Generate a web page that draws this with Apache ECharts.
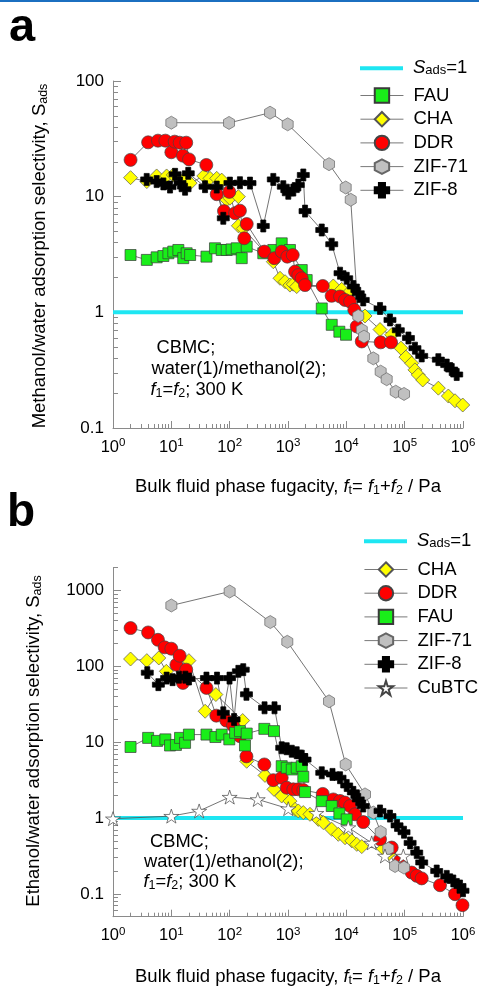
<!DOCTYPE html>
<html><head><meta charset="utf-8">
<script src="https://cdn.jsdelivr.net/npm/echarts@6/dist/echarts.min.js"></script>
<style>html,body{margin:0;padding:0;background:#fff}#c{width:479px;height:986px}</style>
</head><body><div id="c"></div>
<script>
// ---------- DATA: panel a (methanol/water) ----------
const xTicks = [1, 10, 100, 1000, 1e4, 1e5, 1e6];
const yTicksA = [0.1, 1, 10, 100];
const yTicksB = [0.1, 1, 10, 100, 1000];
const legendA = ['Sads=1', 'FAU', 'CHA', 'DDR', 'ZIF-71', 'ZIF-8'];
const legendB = ['Sads=1', 'CHA', 'DDR', 'FAU', 'ZIF-71', 'ZIF-8', 'CuBTC'];
const unity = [[1, 1], [1e6, 1]];

const FAU_a = [[2,3.13],[3.8,2.84],[5.6,2.99],[7.3,3.07],[8.9,3.24],[10.8,3.35],[13.2,3.46],[16,2.94],[18.3,3.24],[21,3.13],[40,3.03],[56,3.58],[73,3.46],[89,3.46],[108,3.5],[132,3.58],[161,2.94],[196,3.7],[377,3.24],[560,3.46],[780,3.95],[1080,3.46],[1720,2.32],[2090,1.9],[3790,1.08],[5620,0.78],[7590,0.68],[9880,0.64]];
const CHA_a = [[2,14.6],[3.8,13.5],[5.6,15.1],[8.3,15.1],[10.8,15.4],[17.2,14.4],[21,13.1],[36,15.1],[46,14.4],[60,14.4],[73,13.9],[89,9.4],[101,9.7],[141,10],[141,5.6],[171,5.3],[560,2.74],[730,1.97],[890,1.84],[1080,1.72],[1230,1.75],[1410,1.67],[5980,1.69],[8330,1.58],[10800,1.46],[20900,0.93],[37800,0.71],[60000,0.64],[86500,0.49],[105000,0.41],[132000,0.363],[150000,0.318],[171000,0.288],[204000,0.26],[378000,0.221],[561000,0.189],[730000,0.172],[990000,0.158]];
const DDR_a = [[2,20.8],[4,29.5],[5.9,30.5],[7.9,30.5],[10,24.2],[11.4,29.9],[13.9,29.3],[15.8,22.6],[18,29.3],[20.1,21],[39.8,18.8],[60,10.5],[80,7.5],[98.6,11],[124,7.2],[150,7.57],[178,4.37],[196,5.8],[393,3.35],[582,2.94],[780,3.35],[973,3.03],[1205,3.13],[1320,2.25],[1500,2.1],[1720,1.97],[1960,1.72],[3940,1.69],[5600,1.39],[7800,1.37],[9500,1.28],[11600,1.24],[13700,1.05],[15100,0.755],[18400,0.56],[38800,0.55],[58300,0.55]];
const ZIF71_a = [[10,43.6],[97.5,43.4],[492,53.2],[988,42.2],[5050,19.1],[9750,12],[11900,9.4],[16000,0.93],[18400,0.705],[20100,0.617],[29000,0.40],[38800,0.307],[49200,0.264],[70300,0.206],[97500,0.197]];
const ZIF8_a = [[3.78,14.1],[5.6,13.5],[7.3,12.9],[9.5,12.1],[11.6,15.6],[14.1,13.1],[17.2,11.6],[19.5,15.9],[37.8,12.2],[60,12.1],[77.8,6.5],[101,13.1],[150,13.2],[223,13.1],[377,5.58],[560,14.1],[831,12.2],[1012,10.7],[1233,11.4],[1503,12.6],[1830,15.4],[1960,7.5],[3790,5.15],[5620,3.88],[7800,2.18],[10150,1.97],[13200,1.67],[16000,1.46],[19500,1.28],[37800,1.08],[56000,0.86],[77800,0.70],[116000,0.60],[150000,0.49],[196000,0.42],[378000,0.39],[526000,0.35],[641000,0.32],[780000,0.29]];

// ---------- DATA: panel b (ethanol/water) ----------
const CHA_b = [[2,125],[3.8,119],[6.1,129],[8.2,86],[20,119],[38,25.6],[58,42.5],[167,19.3],[196,5.6],[403,3.65],[575,2.39],[780,1.95],[1080,1.67],[1320,1.3],[1500,1.24],[1830,1.18],[2380,1.12],[3310,0.96],[4030,0.87],[5620,0.71],[7290,0.61],[9500,0.55],[12400,0.5],[15100,0.45],[18400,0.42],[43000,0.395],[52400,0.333]];
const DDR_b = [[2,320],[4,280],[5.9,224],[7.7,178],[10,171],[12.2,105],[13.9,138],[15.8,60.5],[18,90.5],[40,52],[59,22.4],[87.5,19.3],[114,16.6],[150,12],[194,6.5],[393,5.09],[560,3.16],[780,3.4],[950,2.51],[1233,2.39],[1500,2.39],[1830,2.34],[3940,2.08],[5980,1.76],[7800,1.68],[9500,1.6],[11600,1.44],[14100,1.12],[19500,0.885],[37800,0.525],[60000,0.408],[83200,0.27],[132000,0.191],[161000,0.173],[196000,0.16],[404000,0.13],[730000,0.099],[980000,0.071]];
const FAU_b = [[2,8.65],[4,11.4],[5.7,10.4],[7.9,10.9],[9.5,9.05],[12,9.2],[14.1,11.4],[17.2,9.8],[20,12.6],[40,12.6],[57,11.7],[73,12.6],[98.6,10.9],[124,13.3],[150,14],[183,9.05],[196,13],[393,15],[575,14],[780,4.83],[950,4.6],[1160,4.37],[1410,4.6],[1720,4.83],[1830,3.5],[1960,2.2],[3790,1.67],[5620,1.44],[7590,1.15],[10150,0.96]];
const ZIF71_b = [[10,635],[100,970],[497,384],[973,211],[5050,34.6],[9750,5.09],[20900,2.05],[29000,1.18],[38800,0.655],[52400,0.395],[68400,0.233],[97500,0.222]];
const ZIF8_b = [[3.87,82.6],[6,57.4],[8.3,70],[10.5,66.8],[13.5,72],[17.4,72],[20.1,68.2],[40,70],[60.7,70],[77.8,24.4],[99.4,70],[119,19.9],[141,86],[171,90.5],[194,42.8],[396,28.4],[587,28.4],[780,8.44],[950,8.2],[1160,7.6],[1410,7.26],[1720,6.55],[1960,5.9],[3790,3.95],[5790,3.76],[7800,3.4],[10150,2.69],[13200,2.18],[16000,1.76],[19500,1.44],[37800,1.24],[56000,1.06],[74000,0.8],[97500,0.65],[124000,0.47],[161000,0.35],[196000,0.26],[354000,0.2],[526000,0.17],[682000,0.148],[889000,0.127],[1000000,0.11]];
const CuBTC_b = [[1,0.98],[10,1.06],[30,1.24],[100,1.89],[303,1.76],[1010,1.33],[3060,1.16],[10800,0.75],[27200,0.47],[46000,0.316],[94800,0.316]];

// ---------- STYLE ----------
const F = '"Liberation Sans", Arial, Helvetica, sans-serif';
const AX = '#8a8a8a';
const CYAN = '#1ee6f2';
const HEX = 'path://M0,-1L0.866,-0.5L0.866,0.5L0,1L-0.866,0.5L-0.866,-0.5Z';
const CROSS = 'path://M-0.42,-1L0.42,-1L0.42,-0.42L1,-0.42L1,0.42L0.42,0.42L0.42,1L-0.42,1L-0.42,0.42L-1,0.42L-1,-0.42L-0.42,-0.42Z';
const STAR = 'path://M0,-1L0.2245,-0.309L0.951,-0.309L0.363,0.118L0.588,0.809L0,0.382L-0.588,0.809L-0.363,0.118L-0.951,-0.309L-0.2245,-0.309Z';
const BAR = 'path://M0,0L43,0L43,4L0,4Z';
const STY = {
  'FAU':   {symbol:'rect', size:11, color:'#19ee19', border:'#3a3a3a'},
  'CHA':   {symbol:'diamond', size:14, color:'#ffff00', border:'#555'},
  'DDR':   {symbol:'circle', size:13, color:'#ff0000', border:'#444'},
  'ZIF-71':{symbol:HEX, size:[11,13], color:'#c0c0c0', border:'#666'},
  'ZIF-8': {symbol:CROSS, size:12, color:'#000000', border:'#000'},
  'CuBTC': {symbol:STAR, size:[15,14], color:'#ffffff', border:'#444'}
};

function minorsIn(lo, hi) {
  const out = [];
  for (let e = -3; e <= 6; e++) for (let m = 2; m <= 9; m++) {
    const v = +(m * Math.pow(10, e)).toPrecision(3);
    if (v >= lo * 0.999 && v <= hi * 1.001) out.push(v);
  }
  return out;
}
const supRich = {
  b: {fontFamily: F, fontSize: 16.5, lineHeight: 20, color: '#000'},
  s: {fontFamily: F, fontSize: 11.5, lineHeight: 12, verticalAlign: 'top', color: '#000'}
};
function xAxes(grid) {
  return [{
    type: 'log', logBase: 10, gridIndex: grid, min: 1, max: 1e6, position: 'bottom',
    axisLine: {show: true, lineStyle: {color: AX, width: 1}},
    axisTick: {show: true, inside: true, length: 7, customValues: xTicks, lineStyle: {color: AX}},
    minorTick: {show: false}, splitLine: {show: false},
    axisLabel: {customValues: xTicks, margin: 9, formatter: v => '{b|10}{s|' + Math.round(Math.log10(v)) + '}', rich: supRich}
  }, {
    type: 'log', logBase: 10, gridIndex: grid, min: 1, max: 1e6, position: 'bottom',
    axisLine: {show: false},
    axisTick: {show: true, inside: true, length: 4, customValues: minorsIn(1, 1e6), lineStyle: {color: AX}},
    axisLabel: {show: false}, splitLine: {show: false}, minorTick: {show: false}
  }];
}
function yAxes(grid, mn, mx, majors) {
  return [{
    type: 'log', logBase: 10, gridIndex: grid, min: mn, max: mx, position: 'left',
    axisLine: {show: true, lineStyle: {color: AX, width: 1}},
    axisTick: {show: true, inside: true, length: 8, customValues: majors, lineStyle: {color: AX}},
    minorTick: {show: false}, splitLine: {show: false},
    axisLabel: {customValues: majors, margin: 9, color: '#000', fontFamily: F, fontSize: 17,
      formatter: v => v < 1 ? v.toFixed(1) : String(Math.round(v))}
  }, {
    type: 'log', logBase: 10, gridIndex: grid, min: mn, max: mx, position: 'left',
    axisLine: {show: false},
    axisTick: {show: true, inside: true, length: 5, customValues: minorsIn(mn, mx), lineStyle: {color: AX}},
    axisLabel: {show: false}, splitLine: {show: false}, minorTick: {show: false}
  }];
}
function ser(name, data, xi, yi) {
  const s = STY[name];
  return {
    name, type: 'line', data, xAxisIndex: xi, yAxisIndex: yi,
    symbol: s.symbol, symbolSize: s.size, symbolKeepAspect: false,
    showSymbol: true, showAllSymbol: true, clip: false,
    itemStyle: {color: s.color, borderColor: s.border, borderWidth: 0.7},
    lineStyle: {color: '#505050', width: 0.8},
    emphasis: {disabled: true}, animation: false
  };
}
function unitySer(xi, yi) {
  return {name: 'Sads=1', type: 'line', data: unity, xAxisIndex: xi, yAxisIndex: yi,
    symbol: 'none', lineStyle: {color: CYAN, width: 4}, itemStyle: {color: CYAN},
    emphasis: {disabled: true}, animation: false, z: 1};
}
const legRich = {
  i: {fontFamily: F, fontSize: 18.5, fontStyle: 'italic', color: '#000', lineHeight: 18},
  sub: {fontFamily: F, fontSize: 13, verticalAlign: 'bottom', color: '#000', lineHeight: 12},
  n: {fontFamily: F, fontSize: 18.5, color: '#000', lineHeight: 18}
};
function legend(data, left, top, iw) {
  return {
    data: data.map(n => n === 'Sads=1' ? {name: n, icon: BAR, itemStyle: {color: CYAN}} : n),
    orient: 'vertical', left, top, itemWidth: iw, itemHeight: 18, itemGap: 4.7,
    selectedMode: false, padding: 0, symbolKeepAspect: true,
    lineStyle: {color: '#6a6a6a', width: 0.9},
    textStyle: {fontFamily: F, fontSize: 18.5, color: '#000', lineHeight: 16, padding: [0, 0, 0, 5], rich: legRich},
    formatter: n => n === 'Sads=1' ? '{i|S}{sub|ads}{n|=1}' : n
  };
}
const txtRich = {
  n: {fontFamily: F, fontSize: 18.3, color: '#000', lineHeight: 20},
  i: {fontFamily: F, fontSize: 18.3, fontStyle: 'italic', color: '#000', lineHeight: 20},
  sub: {fontFamily: F, fontSize: 12.5, color: '#000', lineHeight: 12, verticalAlign: 'bottom'}
};
const ttlRich = {
  n: {fontFamily: F, fontSize: 18.5, color: '#000', lineHeight: 20},
  i: {fontFamily: F, fontSize: 18.5, fontStyle: 'italic', color: '#000', lineHeight: 20},
  sub: {fontFamily: F, fontSize: 12.5, color: '#000', lineHeight: 12, verticalAlign: 'bottom'}
};
function txt(x, y, text, rich, extra) {
  return Object.assign({type: 'text', x, y, silent: true,
    style: {text, fontFamily: F, fontSize: 18, fill: '#000', rich: rich || txtRich, align: 'left', verticalAlign: 'middle'}}, extra || {});
}
function ctxt(x, y, text, rot) {
  return {type: 'text', x, y, rotation: rot || 0, silent: true,
    style: {text, fontFamily: F, fontSize: 18, fill: '#000', rich: ttlRich, align: 'center', verticalAlign: 'middle'}};
}
const xTitle = '{n|Bulk fluid phase fugacity, }{i|f}{sub|t}{n|= }{i|f}{sub|1}{n|+}{i|f}{sub|2}{n| / Pa}';

const option = {
  animation: false,
  backgroundColor: '#fff',
  grid: [
    {left: 113, top: 81, width: 350, height: 347, outerBoundsMode: 'none', containLabel: false},
    {left: 113, top: 567.7, width: 350, height: 349, outerBoundsMode: 'none', containLabel: false}
  ],
  xAxis: [...xAxes(0), ...xAxes(1)],
  yAxis: [...yAxes(0, 0.1, 100, yTicksA), ...yAxes(1, 0.05, 2000, yTicksB)],
  legend: [
    legend([legendA[0]], 360, 58.7, 43),
    legend(legendA.slice(1), 360, 86, 43),
    legend([legendB[0]], 364, 531.7, 43),
    legend(legendB.slice(1), 364, 560, 43)
  ],
  series: [
    unitySer(0, 0),
    ser('FAU', FAU_a, 0, 0), ser('CHA', CHA_a, 0, 0), ser('DDR', DDR_a, 0, 0),
    ser('ZIF-71', ZIF71_a, 0, 0), ser('ZIF-8', ZIF8_a, 0, 0),
    unitySer(2, 2),
    ser('CHA', CHA_b, 2, 2), ser('DDR', DDR_b, 2, 2), ser('FAU', FAU_b, 2, 2),
    ser('ZIF-71', ZIF71_b, 2, 2), ser('ZIF-8', ZIF8_b, 2, 2), ser('CuBTC', CuBTC_b, 2, 2)
  ],
  graphic: [
    {type: 'rect', shape: {x: 0, y: 0, width: 479, height: 2}, style: {fill: '#1b6fc0'}, silent: true},
    {type: 'text', x: 9, y: 28.4, silent: true, style: {text: 'a', fontFamily: F, fontSize: 47, fontWeight: 'bold', fill: '#000', align: 'left', verticalAlign: 'middle'}},
    {type: 'text', x: 7, y: 513.4, silent: true, style: {text: 'b', fontFamily: F, fontSize: 46, fontWeight: 'bold', fill: '#000', align: 'left', verticalAlign: 'middle'}},
    ctxt(40, 256, '{n|Methanol/water adsorption selectivity, S}{sub|ads}', Math.PI / 2),
    ctxt(34, 741, '{n|Ethanol/water adsorption selectivity, S}{sub|ads}', Math.PI / 2),
    ctxt(288, 487, xTitle),
    ctxt(288, 977, xTitle),
    txt(156.5, 347.5, '{n|CBMC;}'),
    txt(151.5, 369, '{n|water(1)/methanol(2);}'),
    txt(150.5, 390, '{i|f}{sub|1}{n|=}{i|f}{sub|2}{n|; 300 K}'),
    txt(150, 841.7, '{n|CBMC;}'),
    txt(144, 862, '{n|water(1)/ethanol(2);}'),
    txt(143.5, 882, '{i|f}{sub|1}{n|=}{i|f}{sub|2}{n|; 300 K}')
  ]
};
const chart = echarts.init(document.getElementById('c'), null, {renderer: 'canvas'});
chart.setOption(option);
</script></body></html>
